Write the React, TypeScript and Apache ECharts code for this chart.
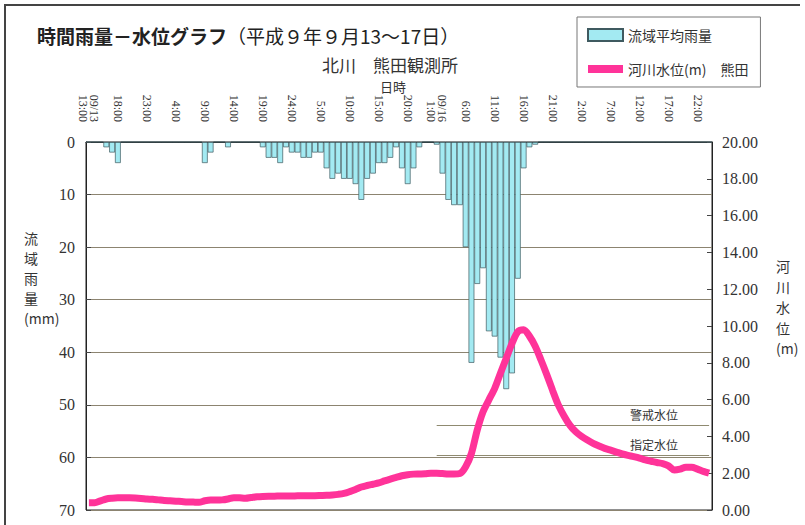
import React, { useEffect, useRef } from "react";
import * as echarts from "echarts";

// hourly categories: 9/13 13:00 .. 9/17 24:00 (108 hours)
const startDay = 13;
const startHour = 13;
const hourCount = 108;
const categories: string[] = [];
for (let h = 0; h < hourCount; h++) {
  const t = startHour + h;
  categories.push(`09/${startDay + Math.floor(t / 24)} ${t % 24}:00`);
}

const tickLabels = [
  "09/13\n13:00", "18:00", "23:00", "4:00", "9:00", "14:00", "19:00", "24:00",
  "5:00", "10:00", "15:00", "20:00", "09/16\n1:00", "6:00", "11:00", "16:00",
  "21:00", "2:00", "7:00", "12:00", "17:00", "22:00",
];

// 流域平均雨量 (mm)
const rainfall = [
  0, 0, 0, 1, 2, 4, 0, 0, 0, 0,
  0, 0, 0, 0, 0, 0, 0, 0, 0, 0,
  4, 2, 0, 0, 1, 0, 0, 0, 0, 0,
  1, 3, 3, 4, 1, 2, 2, 3, 3, 2,
  2, 5, 7, 6, 7, 7, 8, 11, 7, 6,
  4, 4, 3, 1, 5, 8, 5, 1, 0, 0,
  0.5, 6, 11, 12, 12, 20, 42, 27, 24, 36,
  37, 41, 47, 44, 26, 5, 1, 0.5, 0, 0,
  0, 0, 0, 0, 0, 0, 0, 0, 0, 0,
  0, 0, 0, 0, 0, 0, 0, 0, 0, 0,
  0, 0, 0, 0, 0, 0, 0, 0,
];

// 河川水位 (m) 熊田
const waterLevel = [
  0.40, 0.40, 0.50, 0.60, 0.64, 0.66, 0.66, 0.66, 0.65, 0.63,
  0.60, 0.58, 0.55, 0.52, 0.50, 0.48, 0.46, 0.44, 0.43, 0.42,
  0.50, 0.54, 0.54, 0.55, 0.60, 0.67, 0.66, 0.64, 0.68, 0.72,
  0.74, 0.75, 0.75, 0.76, 0.76, 0.76, 0.77, 0.77, 0.78, 0.78,
  0.79, 0.80, 0.82, 0.85, 0.90, 1.00, 1.12, 1.25, 1.33, 1.40,
  1.47, 1.58, 1.68, 1.77, 1.86, 1.92, 1.95, 1.96, 1.97, 2.00,
  2.00, 1.98, 1.96, 1.95, 1.98, 2.35, 3.08, 4.35, 5.34, 5.98,
  6.60, 7.43, 8.24, 9.06, 9.69, 9.80, 9.45, 8.90, 8.15, 7.35,
  6.50, 5.70, 5.10, 4.60, 4.25, 4.00, 3.80, 3.62, 3.48, 3.35,
  3.25, 3.15, 3.05, 2.97, 2.90, 2.82, 2.72, 2.65, 2.58, 2.52,
  2.40, 2.17, 2.22, 2.32, 2.32, 2.22, 2.10, 2.00,
];

const warningLevel = 4.6; // 警戒水位
const designatedLevel = 2.95; // 指定水位
const refStartIndex = 60;

const rainName = "流域平均雨量";
const levelName = "河川水位(m)　熊田";

const serif = "Liberation Serif";
const cjk = "Noto Sans CJK JP";

export default function App() {
  const ref = useRef<HTMLDivElement>(null);
  useEffect(() => {
    if (!ref.current) return;
    const chart = echarts.init(ref.current, null, { renderer: "svg" });
    const lastCat = categories[categories.length - 1];
    chart.setOption({
      animation: false,
      backgroundColor: "#ffffff",
      grid: {
        left: 86,
        right: 93,
        top: 142,
        bottom: 15,
        show: true,
        borderColor: "#222",
        borderWidth: 1,
        backgroundColor: "transparent",
      },
      legend: {
        left: 577,
        top: 17,
        orient: "vertical",
        padding: [11, 12, 11, 10],
        itemGap: 20,
        itemWidth: 35,
        itemHeight: 12,
        borderColor: "#777",
        borderWidth: 1,
        selectedMode: false,
        textStyle: { fontSize: 14, color: "#333", fontFamily: cjk },
        data: [
          { name: rainName, icon: "rect" },
          { name: levelName, icon: "path://M0,0h35v8H0z" },
        ],
      },
      xAxis: {
        type: "category",
        data: categories,
        position: "top",
        boundaryGap: true,
        axisLine: { onZero: false, lineStyle: { color: "#222", width: 1 } },
        axisTick: { interval: 0, inside: true, length: 5, lineStyle: { color: "#444" } },
        axisLabel: {
          interval: 4,
          rotate: 90,
          margin: 20,
          fontSize: 12,
          lineHeight: 11,
          color: "#333",
          fontFamily: serif,
          formatter: (_v: string, i: number) =>
            i % 5 === 0 ? tickLabels[i / 5] ?? "" : "",
        },
        splitLine: { show: false },
      },
      yAxis: [
        {
          type: "value",
          inverse: true,
          min: 0,
          max: 70,
          interval: 10,
          position: "left",
          axisLine: { show: true, lineStyle: { color: "#222" } },
          axisTick: { show: true, inside: true, length: 5, lineStyle: { color: "#444" } },
          axisLabel: { margin: 11, fontSize: 16, color: "#333", fontFamily: serif },
          splitLine: { show: true, lineStyle: { color: "#8c8470", width: 1 } },
        },
        {
          type: "value",
          min: 0,
          max: 20,
          interval: 2,
          position: "right",
          axisLine: { show: true, lineStyle: { color: "#222" } },
          axisTick: { show: true, inside: true, length: 5, lineStyle: { color: "#444" } },
          axisLabel: {
            margin: 10,
            fontSize: 16,
            color: "#333",
            fontFamily: serif,
            formatter: (v: number) => v.toFixed(2),
          },
          splitLine: { show: false },
        },
      ],
      series: [
        {
          name: rainName,
          type: "bar",
          yAxisIndex: 0,
          data: rainfall,
          barCategoryGap: "0%",
          itemStyle: { color: "#a3eaf2", borderColor: "#3f5a60", borderWidth: 0.7 },
        },
        {
          name: levelName,
          type: "line",
          yAxisIndex: 1,
          data: waterLevel,
          smooth: 0.3,
          symbol: "none",
          z: 5,
          lineStyle: { color: "#ff3399", width: 7 },
          itemStyle: { color: "#ff3399" },
          markLine: {
            silent: true,
            symbol: "none",
            lineStyle: { color: "#8f8a70", width: 1, type: "solid" },
            label: {
              show: true,
              position: "insideEndTop",
              formatter: "{b}",
              padding: [0, 26, 0, 0],
              fontSize: 12,
              color: "#333",
              fontFamily: cjk,
            },
            data: [
              [
                { name: "警戒水位", coord: [categories[refStartIndex], warningLevel] },
                { coord: [lastCat, warningLevel] },
              ],
              [
                { name: "指定水位", coord: [categories[refStartIndex], designatedLevel] },
                { coord: [lastCat, designatedLevel] },
              ],
            ],
          },
        },
      ],
      graphic: [
        {
          type: "polyline",
          shape: { points: [[5, 525], [5, 5], [800, 5]] },
          style: { stroke: "#444", lineWidth: 2, fill: null },
          silent: true,
        },
        {
          type: "text",
          left: 37,
          top: 26,
          style: {
            text: "{b|時間雨量－水位グラフ}{n|（平成９年９月13～17日）}",
            rich: {
              b: { fontSize: 19, fontWeight: "bold", fontFamily: cjk, fill: "#222" },
              n: { fontSize: 19, fontFamily: cjk, fill: "#222" },
            },
          },
        },
        {
          type: "text",
          left: 322,
          top: 56,
          style: { text: "北川　熊田観測所", fontSize: 17, fontFamily: cjk, fill: "#333" },
        },
        {
          type: "text",
          left: 380,
          top: 80,
          style: { text: "日時", fontSize: 13, fontFamily: cjk, fill: "#333" },
        },
        {
          type: "text",
          left: 24,
          top: 228,
          style: {
            text: "流\n域\n雨\n量\n(mm)",
            fontSize: 14,
            lineHeight: 20,
            align: "center",
            fontFamily: cjk,
            fill: "#333",
          },
        },
        {
          type: "text",
          left: 776,
          top: 256,
          style: {
            text: "河\n川\n水\n位\n(m)",
            fontSize: 14,
            lineHeight: 20.5,
            align: "center",
            fontFamily: cjk,
            fill: "#333",
          },
        },
      ],
    });
    return () => chart.dispose();
  }, []);
  return (
    <div
      ref={ref}
      style={{ position: "fixed", left: 0, top: 0, width: 805, height: 525 }}
    />
  );
}
